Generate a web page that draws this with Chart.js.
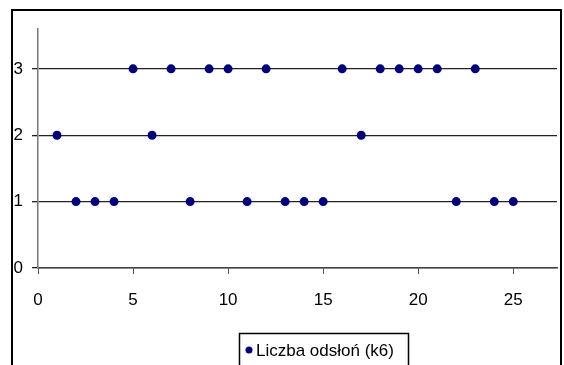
<!DOCTYPE html>
<html>
<head>
<meta charset="utf-8">
<script src="https://cdn.jsdelivr.net/npm/chart.js@4"></script>
<style>
  body { margin: 0; background: #fff; }
  #wrap { width: 564px; height: 365px; }
</style>
</head>
<body>
<div id="wrap"><canvas id="chart" width="564" height="365"></canvas></div>
<script>
// data
const seriesName = "Liczba odsłoń (k6)";
const xValues = [1, 2, 3, 4, 5, 6, 7, 8, 9, 10, 11, 12, 13, 14, 15, 16, 17, 18, 19, 20, 21, 22, 23, 24, 25];
const yValues = [2, 1, 1, 1, 3, 2, 3, 1, 3, 3, 1, 3, 1, 1, 1, 3, 2, 3, 3, 3, 3, 1, 3, 1, 1];
const xTicks = [0, 5, 10, 15, 20, 25];
const yTicks = [0, 1, 2, 3];

const FONT = "'Liberation Sans', Arial, sans-serif";
const navy = "#000080";

// outer frame + boxed legend at the bottom
const framePlugin = {
  id: "frame",
  afterDraw(chart) {
    const ctx = chart.ctx;
    ctx.save();
    ctx.strokeStyle = "#000";
    ctx.lineWidth = 2;
    ctx.strokeRect(12, 10, 549, 400);

    // legend box
    ctx.lineWidth = 1.5;
    ctx.strokeRect(239.5, 333.5, 169, 60);
    ctx.fillStyle = navy;
    ctx.beginPath();
    ctx.arc(249, 350, 3.5, 0, Math.PI * 2);
    ctx.fill();
    ctx.fillStyle = "#000";
    ctx.font = "17px " + FONT;
    ctx.textBaseline = "middle";
    ctx.fillText(chart.data.datasets[0].label, 256, 351);
    ctx.restore();
  }
};

new Chart(document.getElementById("chart"), {
  type: "scatter",
  data: {
    datasets: [{
      label: seriesName,
      data: xValues.map((x, i) => ({ x: x, y: yValues[i] })),
      backgroundColor: navy,
      borderColor: navy,
      pointStyle: "circle",
      pointRadius: 4.5,
      pointBorderWidth: 0
    }]
  },
  options: {
    responsive: false,
    animation: false,
    layout: { padding: { left: 0, right: 7, top: 29, bottom: 0 } },
    plugins: {
      legend: { display: false },
      tooltip: { enabled: false }
    },
    scales: {
      x: {
        type: "linear",
        min: 0,
        max: 27.3,
        afterFit(scale) { scale.height = 97; },
        afterBuildTicks(scale) { scale.ticks = xTicks.map(v => ({ value: v })); },
        ticks: { color: "#000", font: { family: FONT, size: 17 }, padding: 16, includeBounds: false },
        grid: { drawOnChartArea: false, drawTicks: true, tickLength: 6, color: "#555", lineWidth: 1 },
        border: { color: "#444", width: 1.5 }
      },
      y: {
        min: 0,
        max: 3.6,
        afterFit(scale) { scale.width = 38; },
        afterBuildTicks(scale) { scale.ticks = yTicks.map(v => ({ value: v })); },
        ticks: { color: "#000", font: { family: FONT, size: 17 }, padding: 9, includeBounds: false },
        grid: { drawTicks: true, tickLength: 6, color: "#222", lineWidth: 1.3 },
        border: { color: "#777", width: 1.5 }
      }
    }
  },
  plugins: [framePlugin]
});
</script>
</body>
</html>
